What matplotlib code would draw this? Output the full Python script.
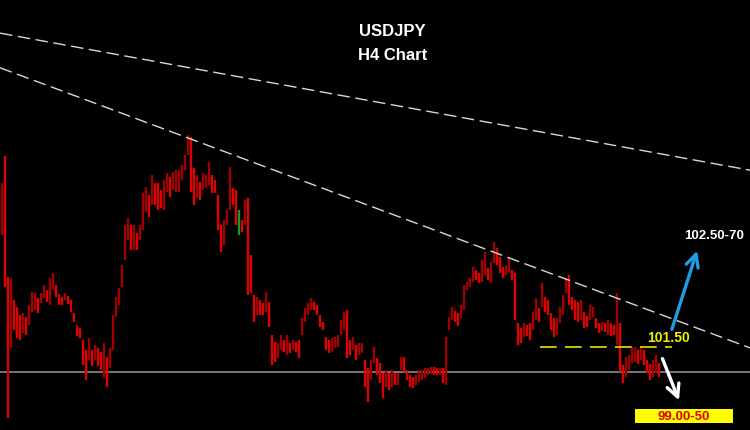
import matplotlib
matplotlib.use("Agg")
import matplotlib.pyplot as plt
from matplotlib.patches import Rectangle
import numpy as np

# H4 bars: highs and lows (price)
highs = [104.78,105.32,102.90,102.88,102.44,102.30,102.14,102.18,102.10,102.34,
         102.60,102.58,102.48,102.58,102.74,102.64,102.88,102.98,102.74,102.56,
         102.50,102.58,102.52,102.44,102.18,101.94,101.88,101.64,101.44,101.68,
         101.44,101.54,101.48,101.40,101.58,101.30,101.48,102.14,102.50,102.68,
         103.14,103.94,104.08,103.94,103.94,103.78,103.94,104.58,104.70,104.54,
         104.94,104.78,104.78,104.64,104.84,104.98,104.90,105.00,105.04,105.04,
         105.14,105.34,105.74,105.70,105.08,104.94,104.80,104.98,104.94,105.20,
         104.94,104.84,104.54,103.94,104.04,104.24,105.10,104.68,104.64,104.24,
         104.04,104.44,104.48,103.34,102.54,102.50,102.44,102.38,102.60,102.40,
         101.74,101.60,101.58,101.74,101.64,101.74,101.58,101.64,101.60,101.64,
         102.08,102.28,102.38,102.48,102.40,102.34,102.14,102.00,101.70,101.64,
         101.68,101.70,101.74,102.04,102.20,102.24,101.64,101.70,101.54,101.58,
         101.58,101.24,101.08,101.24,101.50,101.28,101.18,100.98,101.04,100.98,
         101.04,100.98,100.98,101.30,101.30,101.04,100.94,100.90,100.94,101.04,
         101.04,101.08,101.08,101.10,101.10,101.08,101.08,101.08,101.70,102.10,
         102.30,102.22,102.18,102.34,102.74,102.80,102.88,103.10,103.04,102.98,
         103.24,103.40,103.08,103.20,103.60,103.48,103.30,103.10,103.14,103.28,
         103.04,102.98,101.98,101.88,101.98,101.94,101.98,102.20,102.48,102.28,
         102.78,102.50,102.44,102.18,102.08,102.08,102.30,102.54,102.88,102.94,
         102.50,102.44,102.40,102.44,102.20,102.12,102.34,102.30,102.08,101.98,
         102.00,101.98,102.04,101.98,101.94,102.58,101.98,101.14,101.30,101.34,
         101.50,101.50,101.44,101.50,101.44,101.24,101.16,101.24,101.34,101.18]
lows = [103.74,102.70,100.08,101.48,101.84,101.68,101.64,101.78,101.74,101.94,
        102.20,102.24,102.18,102.38,102.48,102.40,102.34,102.64,102.50,102.34,
        102.34,102.44,102.36,102.20,102.00,101.72,101.68,101.14,100.84,101.24,
        101.12,101.24,101.12,101.04,100.88,100.70,101.08,101.44,102.10,102.34,
        102.70,103.24,103.64,103.44,103.44,103.44,103.64,103.84,104.20,104.10,
        104.34,104.34,104.24,104.28,104.24,104.60,104.50,104.64,104.60,104.60,
        104.84,105.04,105.34,104.60,104.34,104.48,104.44,104.64,104.68,104.74,
        104.58,104.58,103.84,103.40,103.54,103.94,104.24,104.34,103.94,103.74,
        103.80,103.94,102.54,102.58,102.00,102.14,102.14,102.14,102.20,101.90,
        101.14,101.20,101.28,101.44,101.40,101.34,101.38,101.44,101.40,101.28,
        101.74,102.00,102.14,102.24,102.24,102.14,101.90,101.84,101.44,101.38,
        101.40,101.48,101.50,101.74,101.84,101.28,101.34,101.44,101.24,101.34,
        101.38,100.70,100.40,100.84,101.18,100.94,100.78,100.48,100.70,100.64,
        100.70,100.74,100.74,101.04,101.00,100.84,100.70,100.68,100.74,100.80,
        100.84,100.88,100.94,100.96,100.94,100.94,100.94,100.78,100.74,101.84,
        102.04,102.00,101.92,102.08,102.24,102.64,102.70,102.80,102.84,102.78,
        102.80,102.94,102.84,102.78,103.18,103.14,102.98,102.88,102.94,102.98,
        102.84,102.04,101.54,101.58,101.70,101.72,101.64,101.84,102.04,102.00,
        102.30,102.20,102.14,101.84,101.70,101.74,101.98,102.14,102.58,102.34,
        102.24,102.04,102.00,102.04,101.88,101.90,102.04,102.10,101.88,101.78,
        101.82,101.80,101.74,101.72,101.74,101.54,101.00,100.78,100.90,101.04,
        101.18,101.20,101.16,101.24,101.14,100.98,100.84,100.90,100.98,100.90]
green_bar = 79

# Reference levels
support = 101.50
hline = 101.00
upper_tl = [(0, 107.77), (249, 105.04)]
lower_tl = [(0, 107.07), (249, 101.49)]
title_lines = ["USDJPY", "H4 Chart"]
up_target = "102.50-70"
down_target = "99.00-50"
support_label = "101.50"

n = len(highs)
idx = np.arange(n)
h = np.array(highs)
l = np.array(lows)
mid = (h + l) / 2
colors = []
for i in range(n):
    if i == green_bar:
        colors.append("#1a9a1a")
    elif i > 0 and mid[i] < mid[i - 1]:
        colors.append("#e00000")
    else:
        colors.append("#a00000")

fig = plt.figure(figsize=(7.5, 4.3), dpi=100)
fig.patch.set_facecolor("black")
ax = fig.add_axes([0, 0, 1, 1])
ax.set_facecolor("black")
ax.set_xlim(-0.667, 249.33)
ax.set_ylim(99.84, 108.44)
ax.axis("off")

ax.axhline(hline, color="#7a808a", lw=1.3, zorder=1)
ax.vlines(idx, l, h, colors=colors, lw=1.7, zorder=2)

for tl in (upper_tl, lower_tl):
    ax.axline(tl[0], tl[1], color="#d8d8d8", lw=1.0, ls=(0, (9, 4)), zorder=3)

# yellow support segment
ax.plot([179.3, 223.3], [support, support], color="#e6e600", lw=1.2,
        ls=(0, (10, 5)), zorder=3)
ax.text(222.0, support + 0.18, support_label, color="#f0f000", fontsize=10,
        fontweight="bold", family="Liberation Sans", ha="center", va="center", zorder=5)

# arrows
ax.annotate("", xy=(232.0, 103.48), xytext=(223.0, 101.80),
            arrowprops=dict(arrowstyle="->,head_length=0.9,head_width=0.45",
                            color="#1e9ee8", lw=2.4), zorder=5)
ax.annotate("", xy=(226.0, 100.38), xytext=(219.8, 101.32),
            arrowprops=dict(arrowstyle="->,head_length=0.9,head_width=0.45",
                            color="white", lw=2.4), zorder=5)
ax.text(237.5, 103.72, up_target, color="white", fontsize=9.5, fontweight="bold",
        family="Liberation Sans", ha="center", va="center", zorder=5)

# target box
ax.add_patch(Rectangle((635 / 750, 7 / 430), 98 / 750, 14 / 430,
                       transform=ax.transAxes, fc="#ffff00", ec="none", zorder=6))
ax.text(684 / 750, 1 - 416.5 / 430, down_target, color="#e00000", fontsize=9.5,
        fontweight="bold", family="Liberation Sans", ha="center", va="center",
        transform=ax.transAxes, zorder=7)

fig.text(0.523, 1 - 32 / 430, title_lines[0], color="white", fontsize=12,
         fontweight="bold", family="Liberation Sans", ha="center", va="center")
fig.text(0.523, 1 - 55 / 430, title_lines[1], color="white", fontsize=12,
         fontweight="bold", family="Liberation Sans", ha="center", va="center")

fig.savefig("out.png", dpi=100, facecolor="black")
